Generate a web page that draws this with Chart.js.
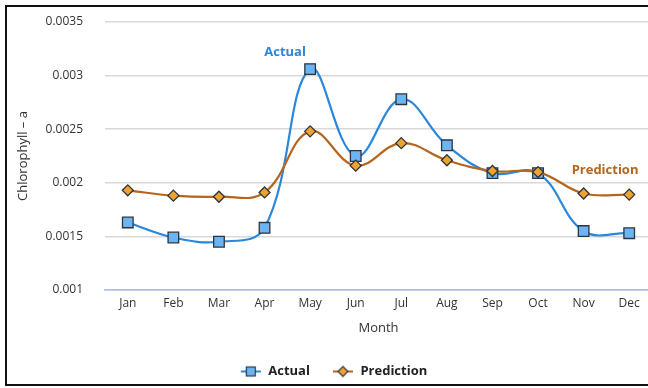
<!DOCTYPE html>
<html lang="en">
<head>
  <meta charset="UTF-8">
  <title>Chlorophyll - a by Month</title>
  <script src="https://cdn.jsdelivr.net/npm/chart.js"></script>
  <style>
    html, body {
      margin: 0;
      padding: 0;
      background: #fff;
      overflow: hidden;
    }
    #wrap {
      position: absolute;
      left: 0;
      top: 0;
      width: 652px;
      height: 388px;
    }
    #frame {
      position: absolute;
      left: 5px;
      top: 5px;
      width: 700px;
      height: 377px;
      border: 2px solid #111;
      pointer-events: none;
    }
  </style>
</head>
<body>
  <div id="wrap"><canvas id="chlChart"></canvas></div>
  <div id="frame"></div>

  <script>
    const months = ['Jan', 'Feb', 'Mar', 'Apr', 'May', 'Jun', 'Jul', 'Aug', 'Sep', 'Oct', 'Nov', 'Dec'];
    const actual = [0.00163, 0.00149, 0.00145, 0.00158, 0.00306, 0.00225, 0.00278, 0.00235, 0.00209, 0.00209, 0.00155, 0.00153];
    const prediction = [0.00193, 0.00188, 0.00187, 0.00191, 0.00248, 0.00216, 0.00237, 0.00221, 0.00211, 0.00210, 0.00190, 0.00189];
    const yTicks = ['0.001', '0.0015', '0.002', '0.0025', '0.003', '0.0035'];

    const blueLine = '#2a87dc';
    const blueFill = '#6db5f2';
    const brownLine = '#b5651d';
    const orangeFill = '#f0a22e';
    const markerEdge = '#2c3440';

    // small line + marker icons for the legend
    function legendIcon(kind) {
      const c = document.createElement('canvas');
      c.width = 22;
      c.height = 14;
      const g = c.getContext('2d');
      g.strokeStyle = kind === 'rect' ? blueLine : brownLine;
      g.lineWidth = 2;
      g.beginPath();
      g.moveTo(1, 7);
      g.lineTo(21, 7);
      g.stroke();
      g.lineWidth = 1.2;
      g.strokeStyle = markerEdge;
      if (kind === 'rect') {
        g.fillStyle = blueFill;
        g.fillRect(6.5, 2.5, 9, 9);
        g.strokeRect(6.5, 2.5, 9, 9);
      } else {
        g.fillStyle = orangeFill;
        g.beginPath();
        g.moveTo(11, 2);
        g.lineTo(16, 7);
        g.lineTo(11, 12);
        g.lineTo(6, 7);
        g.closePath();
        g.fill();
        g.stroke();
      }
      return c;
    }

    // series names written beside the curves
    const curveLabels = {
      id: 'curveLabels',
      afterDatasetsDraw(chart) {
        const { ctx, scales: { x, y } } = chart;
        ctx.save();
        ctx.font = 'bold 13px "Open Sans", sans-serif';
        ctx.textAlign = 'center';
        ctx.textBaseline = 'middle';
        ctx.fillStyle = blueLine;
        ctx.fillText('Actual', x.getPixelForValue(3.45), y.getPixelForValue(0.00322));
        ctx.fillStyle = brownLine;
        ctx.fillText('Prediction', x.getPixelForValue(10.47), y.getPixelForValue(0.00212));
        ctx.restore();
      }
    };

    Chart.defaults.font.family = '"Open Sans", sans-serif';
    Chart.defaults.color = '#333';

    new Chart(document.getElementById('chlChart'), {
      type: 'line',
      data: {
        labels: months,
        datasets: [
          {
            label: 'Actual',
            data: actual,
            order: 1,
            borderColor: blueLine,
            borderWidth: 2.2,
            tension: 0.4,
            pointStyle: 'rect',
            pointRadius: 7.5,
            pointBackgroundColor: blueFill,
            pointBorderColor: markerEdge,
            pointBorderWidth: 1.3
          },
          {
            label: 'Prediction',
            data: prediction,
            order: 0,
            borderColor: brownLine,
            borderWidth: 2.2,
            tension: 0.4,
            pointStyle: 'rectRot',
            pointRadius: 5.5,
            pointBackgroundColor: orangeFill,
            pointBorderColor: markerEdge,
            pointBorderWidth: 1.3
          }
        ]
      },
      options: {
        responsive: true,
        maintainAspectRatio: false,
        animation: false,
        layout: { autoPadding: false, padding: { left: 15, top: 22, right: 0, bottom: 0 } },
        scales: {
          x: {
            offset: true,
            grid: { display: false, drawTicks: false },
            border: { color: '#a9b9e6', width: 1.5 },
            ticks: { padding: 6, font: { size: 12 }, color: '#333' },
            title: { display: true, text: 'Month', font: { size: 13 }, color: '#333', padding: { top: 4, bottom: 7 } }
          },
          y: {
            min: 0.001,
            max: 0.0035,
            afterFit(scale) {
              scale.width = 90;
              scale.paddingTop = 0;
              scale.paddingBottom = 0;
            },
            afterBuildTicks(scale) {
              scale.ticks = yTicks.map(v => ({ value: parseFloat(v) }));
            },
            grid: { color: '#d9d9d9', lineWidth: 1.5, drawTicks: false },
            border: { display: false },
            ticks: {
              padding: 22,
              font: { size: 12 },
              color: '#333',
              callback: function(value) {
                return yTicks.find(t => Math.abs(parseFloat(t) - value) < 1e-9) || '';
              }
            },
            title: { display: true, text: 'Chlorophyll – a', font: { size: 13 }, color: '#333', padding: 0 }
          }
        },
        plugins: {
          legend: {
            position: 'bottom',
            sort: (a, b) => a.datasetIndex - b.datasetIndex,
            labels: {
              usePointStyle: true,
              pointStyleWidth: 22,
              padding: 22,
              color: '#222',
              font: { size: 13, weight: 'bold' },
              generateLabels(chart) {
                return chart.data.datasets.map((ds, i) => ({
                  text: ds.label,
                  datasetIndex: i,
                  pointStyle: legendIcon(i === 0 ? 'rect' : 'diamond'),
                  fontColor: '#222',
                  lineWidth: 0,
                  strokeStyle: 'transparent',
                  fillStyle: 'transparent'
                }));
              }
            }
          },
          tooltip: { enabled: false }
        }
      },
      plugins: [curveLabels]
    });
  </script>
</body>
</html>
